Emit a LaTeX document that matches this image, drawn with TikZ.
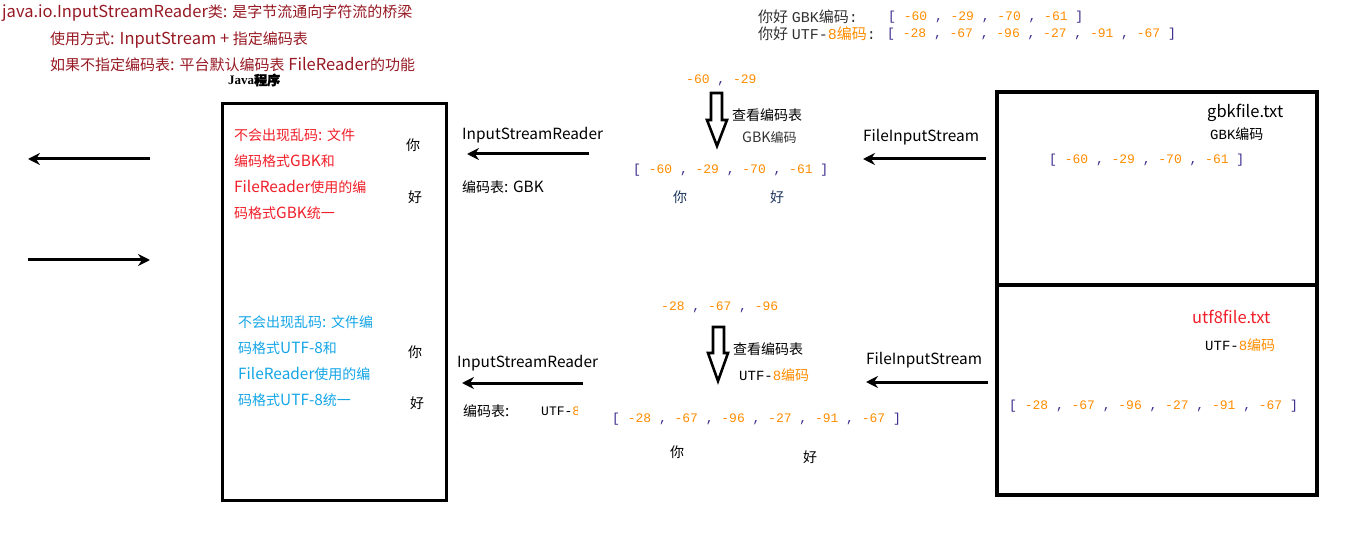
\documentclass[tikz,border=0pt]{standalone}
\usepackage{fontspec}
\setmainfont{Noto Sans CJK SC}[Scale=1.1]
\newfontfamily\zhfont{Noto Sans CJK SC}
\newfontfamily\zhbold{Noto Sans CJK SC}[FakeBold=2.5]
\newfontfamily\monofont{Liberation Mono}
\newfontfamily\seriffont{Liberation Serif}
\XeTeXinterchartokenstate=1
\newXeTeXintercharclass\zhclass
\newcount\zhcode
\newcommand{\zhrange}[2]{\zhcode=#1 \loop\XeTeXcharclass\zhcode=\zhclass \ifnum\zhcode<#2 \advance\zhcode by 1 \repeat}
\zhrange{"4E00}{"9FFF}
\zhrange{"3000}{"303F}
\XeTeXinterchartoks 0 \zhclass = {\begingroup\zhfont}
\XeTeXinterchartoks 4095 \zhclass = {\begingroup\zhfont}
\XeTeXinterchartoks \zhclass 0 = {\endgroup}
\XeTeXinterchartoks \zhclass 4095 = {\endgroup}
\usetikzlibrary{arrows.meta}
\definecolor{notered}{RGB}{150,25,35}
\definecolor{numorange}{RGB}{255,140,0}
\definecolor{punct}{RGB}{55,40,140}
\definecolor{gbkred}{RGB}{240,30,40}
\definecolor{utfblue}{RGB}{20,165,230}
\definecolor{charnavy}{RGB}{30,55,95}
\newcommand{\nm}[1]{\textcolor{numorange}{#1}}
\newcommand{\pc}[1]{\textcolor{punct}{#1}}
\newcommand{\mono}[1]{{\monofont #1}}
\tikzset{>={Stealth[length=12pt,width=12pt,inset=4pt]}}
\tikzset{
  txt/.style={anchor=west, inner sep=0pt, font=\fontsize{14}{16}\selectfont},
  small/.style={anchor=west, inner sep=0pt, font=\fontsize{12}{14}\selectfont},
  num/.style={anchor=west, inner sep=0pt, font=\monofont\fontsize{13}{15}\selectfont},
  note/.style={anchor=west, inner sep=0pt, text=notered, font=\fontsize{15}{17}\selectfont},
  flow/.style={->, line width=3pt},
  hollow/.style={draw, line width=2.6pt, fill=white, line join=miter},
  frame/.style={draw, line width=3pt}
}

\begin{document}
\begin{tikzpicture}[x=1pt, y=-1pt]
\useasboundingbox (0,0) rectangle (1360,537);
\node (noteA) at (2,13) [note] {java.io.InputStreamReader类: 是字节流通向字符流的桥梁};
\node (noteB) at (50,40) [note] {使用方式: InputStream + 指定编码表};
\node (noteC) at (50,65) [note] {如果不指定编码表: 平台默认编码表 FileReader的功能};
\node (javaprog) at (228,80) [small] {\XeTeXinterchartokenstate=0 \seriffont\bfseries\fontsize{13}{15}\selectfont Java{\zhbold 程序}};
\draw[frame] (222,104) rectangle (446,500);
\foreach \t [count=\i from 0] in {不会出现乱码: 文件, 编码格式GBK和, FileReader使用的编, 码格式GBK统一}
\node (gbkline\i) at (234,135+26*\i) [txt, gbkred] {\t};
\foreach \t [count=\i from 0] in {不会出现乱码: 文件编, 码格式UTF-8和, FileReader使用的编, 码格式UTF-8统一}
\node (utfline\i) at (238,322+26*\i) [txt, utfblue] {\t};
\node (progni) at (413,145) [txt, anchor=center] {你};
\node (proghao) at (415,197) [txt, anchor=center] {好};
\node (progniB) at (415,352) [txt, anchor=center] {你};
\node (proghaoB) at (417,403) [txt, anchor=center] {好};
\coordinate (outA) at (150,159);
\coordinate (outB) at (28,159);
\coordinate (inA) at (28,260);
\coordinate (inB) at (150,260);
\draw[flow] (outA) -- (outB);
\draw[flow] (inA) -- (inB);
\node (isrA) at (462,135) [txt] {InputStreamReader};
\coordinate (isrAstart) at (589,154);
\coordinate (isrAend) at (467,154);
\draw[flow] (isrAstart) -- (isrAend);
\node (tableA) at (462,187) [txt] {编码表: GBK};
\node (bytesA) at (686,80) [num] {\nm{-60} \pc{,} \nm{-29}};
\draw[hollow] (711,93) -- (722,93) -- (722,120) -- (727,120) -- (717,146) -- (707,120) -- (711,120) -- cycle;
\node (lookA) at (732,115) [txt] {查看编码表};
\node (encA) at (742,137) [small, black!80, font=\fontsize{13}{15}\selectfont] {GBK编码};
\node (arrA) at (633,170) [num] {\pc{[} \nm{-60} \pc{,} \nm{-29} \pc{,} \nm{-70} \pc{,} \nm{-61} \pc{]}};
\node (charniA) at (680,197) [txt, anchor=center, charnavy] {你};
\node (charhaoA) at (777,197) [txt, anchor=center, charnavy] {好};
\node (fisA) at (863,137) [txt] {FileInputStream};
\coordinate (fisAstart) at (986,159);
\coordinate (fisAend) at (863,159);
\draw[flow] (fisAstart) -- (fisAend);
\draw[frame, line width=3.5pt] (997,92) rectangle (1317,495);
\coordinate (splitL) at (997,285);
\coordinate (splitR) at (1317,285);
\draw[line width=3.5pt] (splitL) -- (splitR);
\node (gbkfile) at (1207,113) [txt, font=\fontsize{15}{17}\selectfont] {gbkfile.txt};
\node (gbkenc) at (1210,134) [small, font=\fontsize{14}{15}\selectfont] {\mono{GBK}编码};
\node (arrFileA) at (1049,160) [num] {\pc{[} \nm{-60} \pc{,} \nm{-29} \pc{,} \nm{-70} \pc{,} \nm{-61} \pc{]}};
\node (utffile) at (1192,317) [txt, gbkred, font=\fontsize{15}{17}\selectfont] {utf8file.txt};
\node (utfenc) at (1205,345) [txt] {\mono{UTF-}\textcolor{numorange}{\mono{8}编码}};
\node (arrFileB) at (1009,406) [num] {\pc{[} \nm{-28} \pc{,} \nm{-67} \pc{,} \nm{-96} \pc{,} \nm{-27} \pc{,} \nm{-91} \pc{,} \nm{-67} \pc{]}};
\node (bytesB) at (661,307) [num] {\nm{-28} \pc{,} \nm{-67} \pc{,} \nm{-96}};
\draw[hollow] (713,327) -- (724,327) -- (724,353) -- (728,353) -- (718,381) -- (708,353) -- (713,353) -- cycle;
\node (lookB) at (733,349) [txt] {查看编码表};
\node (encB) at (739,375) [txt] {\mono{UTF-}\textcolor{numorange}{\mono{8}编码}};
\node (isrB) at (457,363) [txt] {InputStreamReader};
\coordinate (isrBstart) at (583,383);
\coordinate (isrBend) at (462,383);
\draw[flow] (isrBstart) -- (isrBend);
\node (tableB) at (463,411) [txt] {编码表:};
\begin{scope}
\clip (530,400) rectangle (577,425);
\node (tableBenc) at (541,411) [num] {UTF-\nm{8}};
\end{scope}
\node (arrB) at (612,419) [num] {\pc{[} \nm{-28} \pc{,} \nm{-67} \pc{,} \nm{-96} \pc{,} \nm{-27} \pc{,} \nm{-91} \pc{,} \nm{-67} \pc{]}};
\node (charniB) at (677,452) [txt, anchor=center] {你};
\node (charhaoB) at (810,457) [txt, anchor=center] {好};
\node (fisB) at (866,360) [txt] {FileInputStream};
\coordinate (fisBstart) at (988,382);
\coordinate (fisBend) at (866,382);
\draw[flow] (fisBstart) -- (fisBend);
\node (refGbk) at (758,17) [txt, font=\fontsize{15}{16}\selectfont, black!80] {你好 \mono{GBK}编码\mono{:}};
\node (refGbkArr) at (888,17) [num] {\pc{[} \nm{-60} \pc{,} \nm{-29} \pc{,} \nm{-70} \pc{,} \nm{-61} \pc{]}};
\node (refUtf) at (758,34) [txt, font=\fontsize{15}{16}\selectfont, black!80] {你好 \mono{UTF-}\textcolor{numorange}{\mono{8}编码}\mono{:}};
\node (refUtfArr) at (887,34) [num] {\pc{[} \nm{-28} \pc{,} \nm{-67} \pc{,} \nm{-96} \pc{,} \nm{-27} \pc{,} \nm{-91} \pc{,} \nm{-67} \pc{]}};
\end{tikzpicture}
\end{document}
